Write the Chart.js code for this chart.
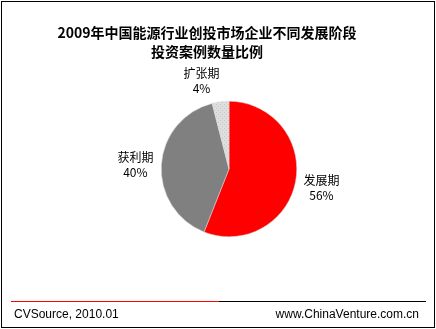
<!DOCTYPE html>
<html>
<head>
<meta charset="utf-8">
<script src="https://cdn.jsdelivr.net/npm/chart.js@4/dist/chart.umd.min.js"></script>
<style>
  html, body { margin: 0; padding: 0; background: #fff; }
  #wrap { width: 436px; height: 329px; position: relative; }
</style>
</head>
<body>
<div id="wrap"><canvas id="pie" width="436" height="329"></canvas></div>
<script>
// ---------- data ----------
const stageLabels = ["发展期", "获利期", "扩张期"];
const stageShares = [56, 40, 4];
const titleLines = ["2009年中国能源行业创投市场企业不同发展阶段", "投资案例数量比例"];
const sourceText = "CVSource, 2010.01";
const siteText = "www.ChinaVenture.com.cn";

const cjkFont = '"Noto Sans CJK SC", "Noto Sans", sans-serif';
const latinFont = '"Liberation Sans", Arial, sans-serif';

// dotted light grey fill, like the Excel pattern on the small slice
function dotPattern() {
  const c = document.createElement("canvas");
  c.width = 4; c.height = 4;
  const g = c.getContext("2d");
  g.fillStyle = "#dedede";
  g.fillRect(0, 0, 4, 4);
  g.fillStyle = "#c6c6c6";
  g.fillRect(0, 0, 1, 1);
  g.fillRect(2, 2, 1, 1);
  return g.createPattern(c, "repeat");
}

// frame, title, footer
const decorPlugin = {
  id: "decor",
  afterDraw(chart) {
    const ctx = chart.ctx;
    ctx.save();
    ctx.strokeStyle = "#000";
    ctx.lineWidth = 1;
    ctx.strokeRect(1.5, 1.5, 433, 326);

    ctx.fillStyle = "#000";
    ctx.textAlign = "center";
    ctx.textBaseline = "middle";
    ctx.font = "bold 14px " + cjkFont;
    ctx.fillText(titleLines[0], 207, 33);
    ctx.fillText(titleLines[1], 207, 52);

    ctx.lineWidth = 1;
    ctx.strokeStyle = "#ff0000";
    ctx.beginPath(); ctx.moveTo(11, 301.5); ctx.lineTo(219, 301.5); ctx.stroke();
    ctx.strokeStyle = "#000";
    ctx.beginPath(); ctx.moveTo(219, 301.5); ctx.lineTo(426, 301.5); ctx.stroke();

    ctx.font = "12px " + latinFont;
    ctx.textBaseline = "alphabetic";
    ctx.textAlign = "left";
    ctx.fillText(sourceText, 14, 318);
    ctx.textAlign = "right";
    ctx.fillText(siteText, 419, 318);
    ctx.restore();
  }
};

// category name + percentage outside each slice
const sliceLabelPlugin = {
  id: "sliceLabels",
  afterDatasetsDraw(chart) {
    const ctx = chart.ctx;
    const arcs = chart.getDatasetMeta(0).data;
    const total = stageShares.reduce((a, b) => a + b, 0);
    ctx.save();
    ctx.font = "12px " + cjkFont;
    ctx.fillStyle = "#000";
    ctx.textAlign = "center";
    ctx.textBaseline = "middle";
    arcs.forEach((arc, i) => {
      const mid = (arc.startAngle + arc.endAngle) / 2;
      const dx = Math.cos(mid), dy = Math.sin(mid);
      const r = arc.outerRadius + 8;
      const px = arc.x + dx * r, py = arc.y + dy * r;
      const lines = [stageLabels[i], Math.round(stageShares[i] / total * 100) + "%"];
      const w = Math.max(...lines.map((t) => ctx.measureText(t).width));
      const lineH = 15;
      const h = lineH * lines.length;
      const cx = px + Math.sign(dx) * w / 2;
      const cy = py + dy * h / 2 + 2;
      lines.forEach((t, k) => {
        ctx.fillText(t, cx, cy - h / 2 + lineH * (k + 0.5));
      });
    });
    ctx.restore();
  }
};

new Chart(document.getElementById("pie"), {
  type: "pie",
  data: {
    labels: stageLabels,
    datasets: [{
      data: stageShares,
      backgroundColor: ["#ff0000", "#808080", dotPattern()],
      borderColor: "#d8d8d8",
      borderWidth: 0.5,
    }],
  },
  options: {
    responsive: false,
    animation: false,
    layout: { padding: { left: 161, right: 139, top: 101, bottom: 92 } },
    plugins: {
      legend: { display: false },
      tooltip: { enabled: false },
    },
  },
  plugins: [decorPlugin, sliceLabelPlugin],
});
</script>
</body>
</html>
